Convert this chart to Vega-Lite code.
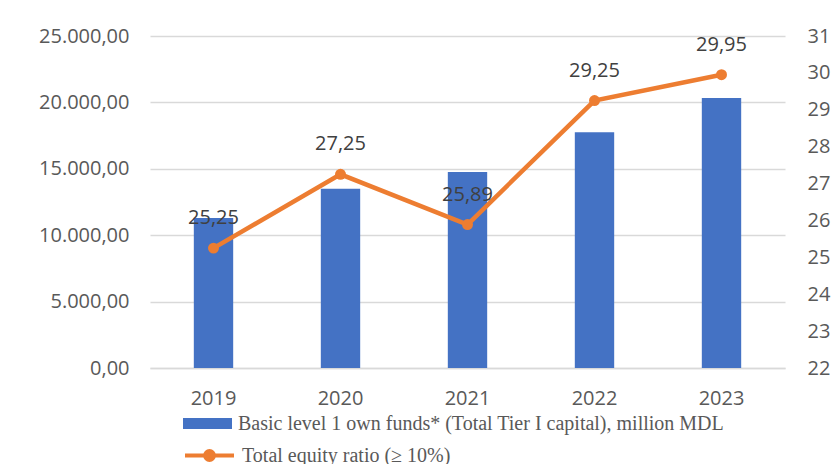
{
  "$schema": "https://vega.github.io/schema/vega-lite/v6.json",
  "width": 635,
  "height": 332,
  "autosize": {"type": "none"},
  "padding": {"left": 150, "top": 36, "right": 55, "bottom": 96},
  "background": "#ffffff",
  "config": {
    "locale": {"number": {"decimal": ",", "thousands": ".", "grouping": [3], "currency": ["", ""]}},
    "view": {"stroke": null},
    "axis": {"labelFont": "Open Sans", "labelFontSize": 20, "labelColor": "#595959", "title": null, "ticks": false},
    "legend": {"labelFont": "Liberation Serif", "labelFontSize": 20, "labelColor": "#595959", "labelLimit": 700, "padding": 0, "title": null}
  },
  "data": {
    "values": [
      {"year": "2019", "funds": 11300, "ratio": 25.25},
      {"year": "2020", "funds": 13500, "ratio": 27.25},
      {"year": "2021", "funds": 14750, "ratio": 25.89},
      {"year": "2022", "funds": 17750, "ratio": 29.25},
      {"year": "2023", "funds": 20330, "ratio": 29.95}
    ]
  },
  "encoding": {
    "x": {
      "field": "year", "type": "ordinal",
      "scale": {"paddingInner": 0, "paddingOuter": 0},
      "axis": {"labelAngle": 0, "domain": true, "domainColor": "#d9d9d9", "domainWidth": 1.5, "labelPadding": 20, "grid": false}
    }
  },
  "layer": [
    {
      "mark": {"type": "bar", "width": {"band": 0.31}, "color": "#4472C4"},
      "encoding": {
        "y": {
          "field": "funds", "type": "quantitative",
          "scale": {"domain": [0, 25000], "nice": false},
          "axis": {"orient": "left", "values": [0, 5000, 10000, 15000, 20000, 25000], "format": ",.2f", "grid": true, "gridColor": "#d9d9d9", "gridWidth": 1.5, "domain": false, "labelPadding": 21}
        },
        "fill": {
          "datum": "Basic level 1 own funds* (Total Tier I capital), million MDL",
          "scale": {"range": ["#4472C4"]},
          "legend": {"orient": "none", "legendX": 33, "legendY": 363, "symbolType": "M-1,-0.22H1V0.22H-1Z", "symbolSize": 2401, "symbolStrokeWidth": 0, "labelOffset": 6}
        }
      }
    },
    {
      "encoding": {
        "y": {
          "field": "ratio", "type": "quantitative",
          "scale": {"domain": [22, 31], "nice": false, "zero": false},
          "axis": {"orient": "right", "values": [22, 23, 24, 25, 26, 27, 28, 29, 30, 31], "format": "d", "grid": false, "domain": false, "labelPadding": 22}
        }
      },
      "layer": [
        {
          "mark": {"type": "line", "strokeWidth": 4.5, "color": "#ED7D31"},
          "encoding": {
            "stroke": {
              "datum": "Total equity ratio (≥ 10%)",
              "scale": {"range": ["#ED7D31"]},
              "legend": {"orient": "none", "legendX": 33, "legendY": 393, "symbolType": "M-1,0H1M0.18,0A0.18,0.18 0 1,1 -0.18,0A0.18,0.18 0 1,1 0.18,0Z", "symbolSize": 2401, "symbolStrokeWidth": 4, "symbolFillColor": "#ED7D31", "labelOffset": 6}
            }
          }
        },
        {
          "mark": {"type": "point", "shape": "circle", "filled": true, "size": 120, "color": "#ED7D31", "opacity": 1},
          "encoding": {}
        },
        {
          "mark": {"type": "text", "dy": -30, "baseline": "middle", "align": "center", "font": "Open Sans", "fontSize": 20, "color": "#404040"},
          "encoding": {"text": {"field": "ratio", "type": "quantitative", "format": ".2f"}}
        }
      ]
    }
  ],
  "resolve": {"scale": {"y": "independent", "fill": "independent", "stroke": "independent"}}
}
